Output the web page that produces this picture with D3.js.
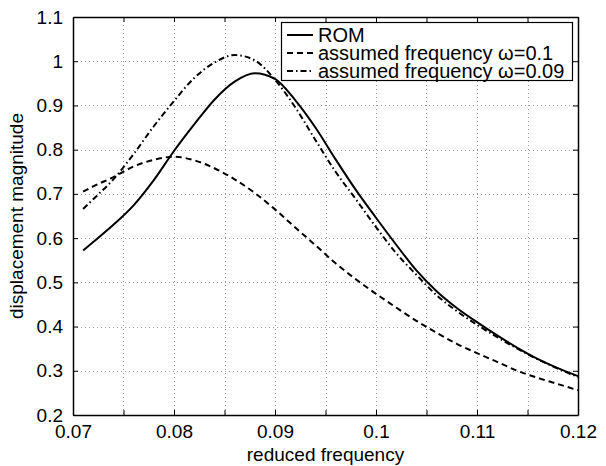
<!DOCTYPE html>
<html>
<head>
<meta charset="utf-8">
<script src="https://cdn.jsdelivr.net/npm/d3@7"></script>
<style>
body { margin: 0; background: #fff; }
text { font-family: "Liberation Sans", Arial, sans-serif; fill: #000; }
</style>
</head>
<body>
<div id="chart"></div>
<script>
// reduced frequency samples
var freq = [0.071, 0.072, 0.074, 0.076, 0.078, 0.080, 0.082, 0.084, 0.086, 0.088,
            0.090, 0.092, 0.094, 0.096, 0.098, 0.100, 0.102, 0.104, 0.106, 0.108,
            0.110, 0.112, 0.114, 0.116, 0.118, 0.120];
var romVals = [0.572, 0.591, 0.630, 0.674, 0.731, 0.797, 0.857, 0.913, 0.954, 0.973,
               0.960, 0.912, 0.850, 0.778, 0.709, 0.646, 0.585, 0.527, 0.480, 0.442,
               0.410, 0.380, 0.352, 0.327, 0.306, 0.288];
var w10Vals = [0.705, 0.717, 0.738, 0.762, 0.777, 0.784, 0.776, 0.758, 0.733, 0.702,
               0.665, 0.624, 0.584, 0.543, 0.507, 0.474, 0.443, 0.413, 0.386, 0.361,
               0.340, 0.320, 0.300, 0.284, 0.270, 0.256];
var w09Vals = [0.666, 0.688, 0.733, 0.790, 0.853, 0.910, 0.962, 0.997, 1.014, 1.002,
               0.958, 0.896, 0.822, 0.750, 0.688, 0.625, 0.566, 0.517, 0.471, 0.435,
               0.404, 0.376, 0.350, 0.326, 0.305, 0.286];
var seriesNames = ["ROM", "assumed frequency \u03c9=0.1", "assumed frequency \u03c9=0.09"];
var xTickVals = [0.07, 0.08, 0.09, 0.1, 0.11, 0.12];
var xGridVals = [0.075, 0.08, 0.085, 0.09, 0.095, 0.1, 0.105, 0.11, 0.115];
var yTickVals = [0.2, 0.3, 0.4, 0.5, 0.6, 0.7, 0.8, 0.9, 1, 1.1];

var width = 606, height = 466;
var margin = {left: 73, right: 28, top: 17, bottom: 51};

var svg = d3.select("#chart").append("svg")
    .attr("width", width)
    .attr("height", height);

var x = d3.scaleLinear().domain([0.07, 0.12]).range([margin.left, width - margin.right]);
var y = d3.scaleLinear().domain([0.2, 1.1]).range([height - margin.bottom, margin.top]);

// dotted grid
var grid = svg.append("g").attr("stroke", "#9a9a9a").attr("stroke-width", 1).attr("stroke-dasharray", "1,3");
grid.selectAll(".gx").data(xGridVals).enter().append("line")
    .attr("x1", function(d) { return Math.round(x(d)) + 0.5; })
    .attr("x2", function(d) { return Math.round(x(d)) + 0.5; })
    .attr("y1", y(1.1)).attr("y2", y(0.2));
grid.selectAll(".gy").data(yTickVals.slice(1, -1)).enter().append("line")
    .attr("y1", function(d) { return Math.round(y(d)) + 0.5; })
    .attr("y2", function(d) { return Math.round(y(d)) + 0.5; })
    .attr("x1", x(0.07)).attr("x2", x(0.12));

// axes with inward ticks on all sides
var xTickAll = [0.07].concat(xGridVals).concat([0.12]);
var fmt = function(d) { return d3.format("")(+d.toFixed(3)); };
var xb = svg.append("g").attr("transform", "translate(0," + y(0.2) + ")")
    .call(d3.axisBottom(x).tickValues(xTickAll).tickSizeInner(-5).tickSizeOuter(0)
        .tickFormat(function(d) { return xTickVals.some(function(v) { return Math.abs(v - d) < 1e-9; }) ? fmt(d) : ""; }));
xb.selectAll("text").attr("y", 6).attr("dy", "0.9em").style("font-size", "19px");
svg.append("g").attr("transform", "translate(0," + y(1.1) + ")")
    .call(d3.axisTop(x).tickValues(xTickAll).tickSizeInner(-5).tickSizeOuter(0).tickFormat(""));
var yl = svg.append("g").attr("transform", "translate(" + x(0.07) + ",0)")
    .call(d3.axisLeft(y).tickValues(yTickVals).tickSizeInner(-5).tickSizeOuter(0).tickFormat(fmt));
yl.selectAll("text").attr("x", -10).style("font-size", "19px");
svg.append("g").attr("transform", "translate(" + x(0.12) + ",0)")
    .call(d3.axisRight(y).tickValues(yTickVals).tickSizeInner(-5).tickSizeOuter(0).tickFormat(""));
svg.selectAll(".domain").attr("stroke", "#000").attr("stroke-width", 1.5);
svg.selectAll(".tick line").attr("stroke", "#000");

// curves
var lineGen = function(vals) {
    return d3.line()
        .x(function(d, i) { return x(freq[i]); })
        .y(function(d) { return y(d); })
        .curve(d3.curveMonotoneX)(vals);
};
var dashes = [null, "6,4", "6,3,1.5,3"];
[romVals, w10Vals, w09Vals].forEach(function(vals, i) {
    svg.append("path")
        .attr("d", lineGen(vals))
        .attr("fill", "none")
        .attr("stroke", "#000")
        .attr("stroke-width", 2)
        .attr("stroke-dasharray", dashes[i]);
});

// legend
var leg = svg.append("g");
leg.append("rect").attr("x", 281.5).attr("y", 22.5).attr("width", 291).attr("height", 58)
    .attr("fill", "#fff").attr("stroke", "#000").attr("stroke-width", 1.2);
seriesNames.forEach(function(name, i) {
    var cy = 35 + i * 18;
    leg.append("line").attr("x1", 287).attr("x2", 313).attr("y1", cy).attr("y2", cy)
        .attr("stroke", "#000").attr("stroke-width", 2).attr("stroke-dasharray", dashes[i]);
    leg.append("text").attr("x", 318).attr("y", cy + 7).style("font-size", "20px").text(name);
});

// axis labels
svg.append("text").attr("x", (x(0.07) + x(0.12)) / 2).attr("y", 461)
    .attr("text-anchor", "middle").style("font-size", "19px").text("reduced frequency");
svg.append("text").attr("transform", "translate(23," + ((y(0.2) + y(1.1)) / 2) + ") rotate(-90)")
    .attr("text-anchor", "middle").style("font-size", "19px").text("displacement magnitude");
</script>
</body>
</html>
